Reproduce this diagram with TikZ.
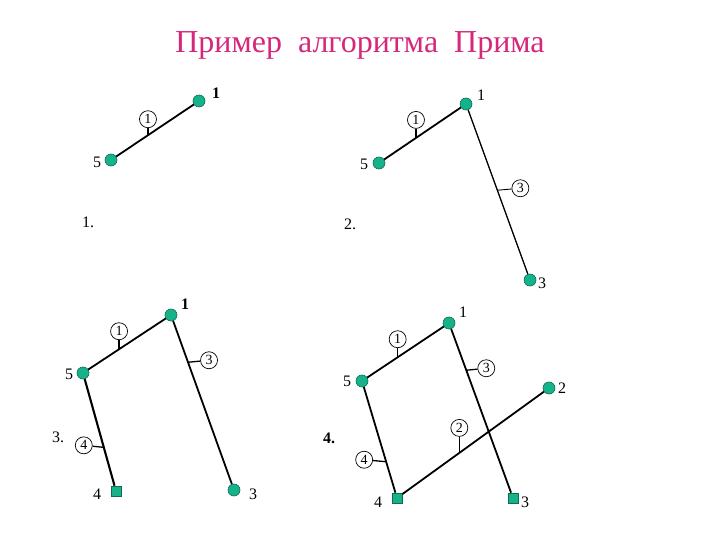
\documentclass[tikz,border=0pt]{standalone}
\usepackage{fontspec}
\setmainfont{Liberation Serif}
\usetikzlibrary{calc}
\definecolor{vfill}{RGB}{22,178,138}
\definecolor{vdraw}{RGB}{10,110,85}
\definecolor{titlec}{RGB}{214,40,122}
\tikzset{
  vert/.style={circle,fill=vfill,draw=vdraw,line width=0.6pt,inner sep=0pt,minimum size=12pt},
  vsq/.style={rectangle,fill=vfill,draw=vdraw,line width=0.6pt,inner sep=0pt,minimum size=10pt},
  lbl/.style={inner sep=0pt,font=\fontsize{16}{16}\selectfont},
  wt/.style={circle,draw=black,line width=0.7pt,inner sep=0pt,minimum size=17pt,font=\fontsize{14}{14}\selectfont},
  edge/.style={line width=1.8pt,black},
  tick/.style={line width=1.3pt,black},
  dlab/.style={inner sep=0pt,font=\fontsize{16}{16}\selectfont}
}
\begin{document}
\begin{tikzpicture}[x=1pt,y=-1pt]
\useasboundingbox (0,0) rectangle (720,540);
\node[inner sep=0pt,text=titlec,font=\fontsize{32}{32}\selectfont] (title) at (360,45) {Пример\ \ алгоритма\ \ Прима};

% ---- Diagram 1 ----
\node[vert] (a1) at (199,101) {};
\node[vert] (a5) at (111,160) {};
\draw[edge] (a5) -- (a1);
\node[lbl,font=\fontsize{16}{16}\selectfont\bfseries] (la1) at (216,93) {1};
\node[lbl] (la5) at (97,162) {5};
\coordinate (ma1) at ($(a5)!0.42!(a1)$);
\node[wt] (wa1) at ($(ma1)+(0,-16)$) {1};
\draw[tick] (wa1) -- (ma1);
\node[dlab] (d1) at (88,222) {1.};

% ---- Diagram 2 ----
\node[vert] (b1) at (466,104) {};
\node[vert] (b5) at (379,163) {};
\node[vert] (b3) at (530,280) {};
\draw[edge] (b5) -- (b1);
\draw[edge,line width=1.3pt] (b1) -- (b3);
\node[lbl] (lb1) at (481,95) {1};
\node[lbl] (lb5) at (364,164) {5};
\node[lbl] (lb3) at (542,283) {3};
\coordinate (mb1) at ($(b5)!0.425!(b1)$);
\node[wt] (wb1) at ($(mb1)+(0,-18)$) {1};
\draw[tick] (wb1) -- (mb1);
\coordinate (mb3) at ($(b1)!0.49!(b3)$);
\node[wt] (wb3) at ($(mb3)+(23,-2)$) {3};
\draw[tick,line width=0.9pt] (mb3) -- (wb3);
\node[dlab] (d2) at (350,224) {2.};

% ---- Diagram 3 ----
\node[vert] (c1) at (171,315) {};
\node[vert] (c5) at (83,373) {};
\node[vsq] (c4) at (116,491) {};
\node[vert] (c3) at (234,490) {};
\draw[edge] (c5) -- (c1);
\draw[edge] (c1) -- (c3);
\draw[edge,line width=2.1pt] (c5) -- (c4);
\node[lbl,font=\fontsize{16}{16}\selectfont\bfseries] (lc1) at (185,304) {1};
\node[lbl] (lc5) at (69,374) {5};
\node[lbl] (lc4) at (97,494) {4};
\node[lbl] (lc3) at (253,494) {3};
\coordinate (mc1) at ($(c5)!0.41!(c1)$);
\node[wt] (wc1) at ($(mc1)+(0,-18)$) {1};
\draw[tick] (wc1) -- (mc1);
\coordinate (mc3) at ($(c1)!0.27!(c3)$);
\node[wt] (wc3) at ($(mc3)+(21,-2)$) {3};
\draw[tick] (mc3) -- (wc3);
\coordinate (mc4) at ($(c5)!0.63!(c4)$);
\node[wt] (wc4) at ($(mc4)+(-20,-2)$) {4};
\draw[tick] (mc4) -- (wc4);
\node[dlab] (d3) at (58,437) {3.};

% ---- Diagram 4 ----
\node[vert] (e1) at (449,323) {};
\node[vert] (e5) at (362,381) {};
\node[vert] (e2) at (549,388) {};
\node[vsq] (e4) at (397,498) {};
\node[vsq] (e3) at (513,498) {};
\draw[edge] (e5) -- (e1);
\draw[edge] (e1) -- (e3);
\draw[edge] (e5) -- (e4);
\draw[edge] (e4) -- (e2);
\node[lbl] (le1) at (463,312) {1};
\node[lbl] (le5) at (347,381) {5};
\node[lbl] (le2) at (562,388) {2};
\node[lbl] (le4) at (378,502) {4};
\node[lbl] (le3) at (525,502) {3};
\coordinate (me1) at ($(e5)!0.41!(e1)$);
\node[wt] (we1) at ($(me1)+(0,-18)$) {1};
\draw[tick] (we1) -- (me1);
\coordinate (me3) at ($(e1)!0.27!(e3)$);
\node[wt] (we3) at ($(me3)+(20,-2)$) {3};
\draw[tick] (me3) -- (we3);
\coordinate (me2) at ($(e4)!0.41!(e2)$);
\node[wt] (we2) at ($(me2)+(0,-25)$) {2};
\draw[tick] (we2) -- (me2);
\coordinate (me4) at ($(e5)!0.69!(e4)$);
\node[wt] (we4) at ($(me4)+(-22,-2)$) {4};
\draw[tick] (me4) -- (we4);
\node[dlab,font=\fontsize{16}{16}\selectfont\bfseries] (d4) at (329,438) {4.};
\end{tikzpicture}
\end{document}
